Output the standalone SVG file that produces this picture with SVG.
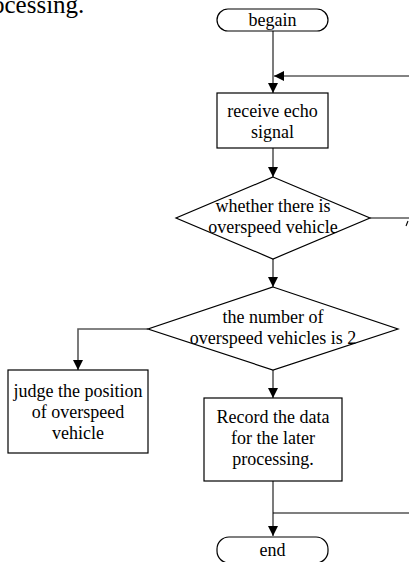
<svg xmlns="http://www.w3.org/2000/svg" width="409" height="562" viewBox="0 0 409 562">
  <style>
    .shape { fill: #ffffff; stroke: #000000; stroke-width: 1.2; }
    .wire { fill: none; stroke: #5a5a5a; stroke-width: 1.6; }
    .thin { fill: none; stroke: #000000; stroke-width: 1.1; }
    .serif { font-family: "Liberation Serif", "Times New Roman", "Noto Serif", "DejaVu Serif", serif; fill: #000000; }
    .label { font-size: 18px; text-anchor: middle; }
  </style>
  <defs>
    <marker id="arrow" viewBox="0 0 10 10" refX="10" refY="5" markerWidth="10" markerHeight="10" markerUnits="userSpaceOnUse" orient="auto">
      <path d="M0,0 L10,5 L0,10 Z" fill="#000000"/>
    </marker>
  </defs>
  <rect width="409" height="562" fill="#ffffff"/>

  <!-- tail of the preceding paragraph -->
  <text class="serif" x="-8" y="13" font-size="25">ocessing.</text>

  <g id="connectors">
    <path class="wire" d="M273,31 V93" marker-end="url(#arrow)"/>
    <path class="wire" d="M409,76 H274" marker-end="url(#arrow)"/>
    <path class="wire" d="M273,148 V177" marker-end="url(#arrow)"/>
    <path class="wire" d="M370,218 H409"/>
    <path class="thin" d="M406,226 L408,221"/>
    <path class="wire" d="M273,259 V287" marker-end="url(#arrow)"/>
    <path class="wire" d="M148,329 H78 V370" marker-end="url(#arrow)"/>
    <path class="wire" d="M273,370 V398" marker-end="url(#arrow)"/>
    <path class="wire" d="M273,481 V536" marker-end="url(#arrow)"/>
    <path class="thin" d="M273,513 H409"/>
  </g>

  <g id="begain">
    <rect class="shape" x="217" y="9" width="111" height="22" rx="11"/>
    <text class="serif label" x="272.5" y="26">begain</text>
  </g>

  <g id="receive">
    <rect class="shape" x="217" y="93" width="111" height="55"/>
    <text class="serif label" x="272.5" y="117">receive echo</text>
    <text class="serif label" x="272.5" y="138">signal</text>
  </g>

  <g id="overspeed-check">
    <polygon class="shape" points="273,177 370,218 273,259 176,218"/>
    <text class="serif label" x="273" y="212">whether there is</text>
    <text class="serif label" x="273" y="233">overspeed vehicle</text>
  </g>

  <g id="count-check">
    <polygon class="shape" points="273,287 398,329 273,370 148,329"/>
    <text class="serif label" x="273" y="323">the number of</text>
    <text class="serif label" x="273" y="344">overspeed vehicles is 2</text>
  </g>

  <g id="judge">
    <rect class="shape" x="8" y="370" width="140" height="83"/>
    <text class="serif label" x="78" y="397">judge the position</text>
    <text class="serif label" x="78" y="418">of overspeed</text>
    <text class="serif label" x="78" y="439">vehicle</text>
  </g>

  <g id="record">
    <rect class="shape" x="204" y="398" width="138" height="83"/>
    <text class="serif label" x="273" y="423">Record the data</text>
    <text class="serif label" x="273" y="444">for the later</text>
    <text class="serif label" x="273" y="465">processing.</text>
  </g>

  <g id="end">
    <rect class="shape" x="217" y="537" width="111" height="26" rx="12"/>
    <text class="serif label" x="272.5" y="556">end</text>
  </g>
</svg>
